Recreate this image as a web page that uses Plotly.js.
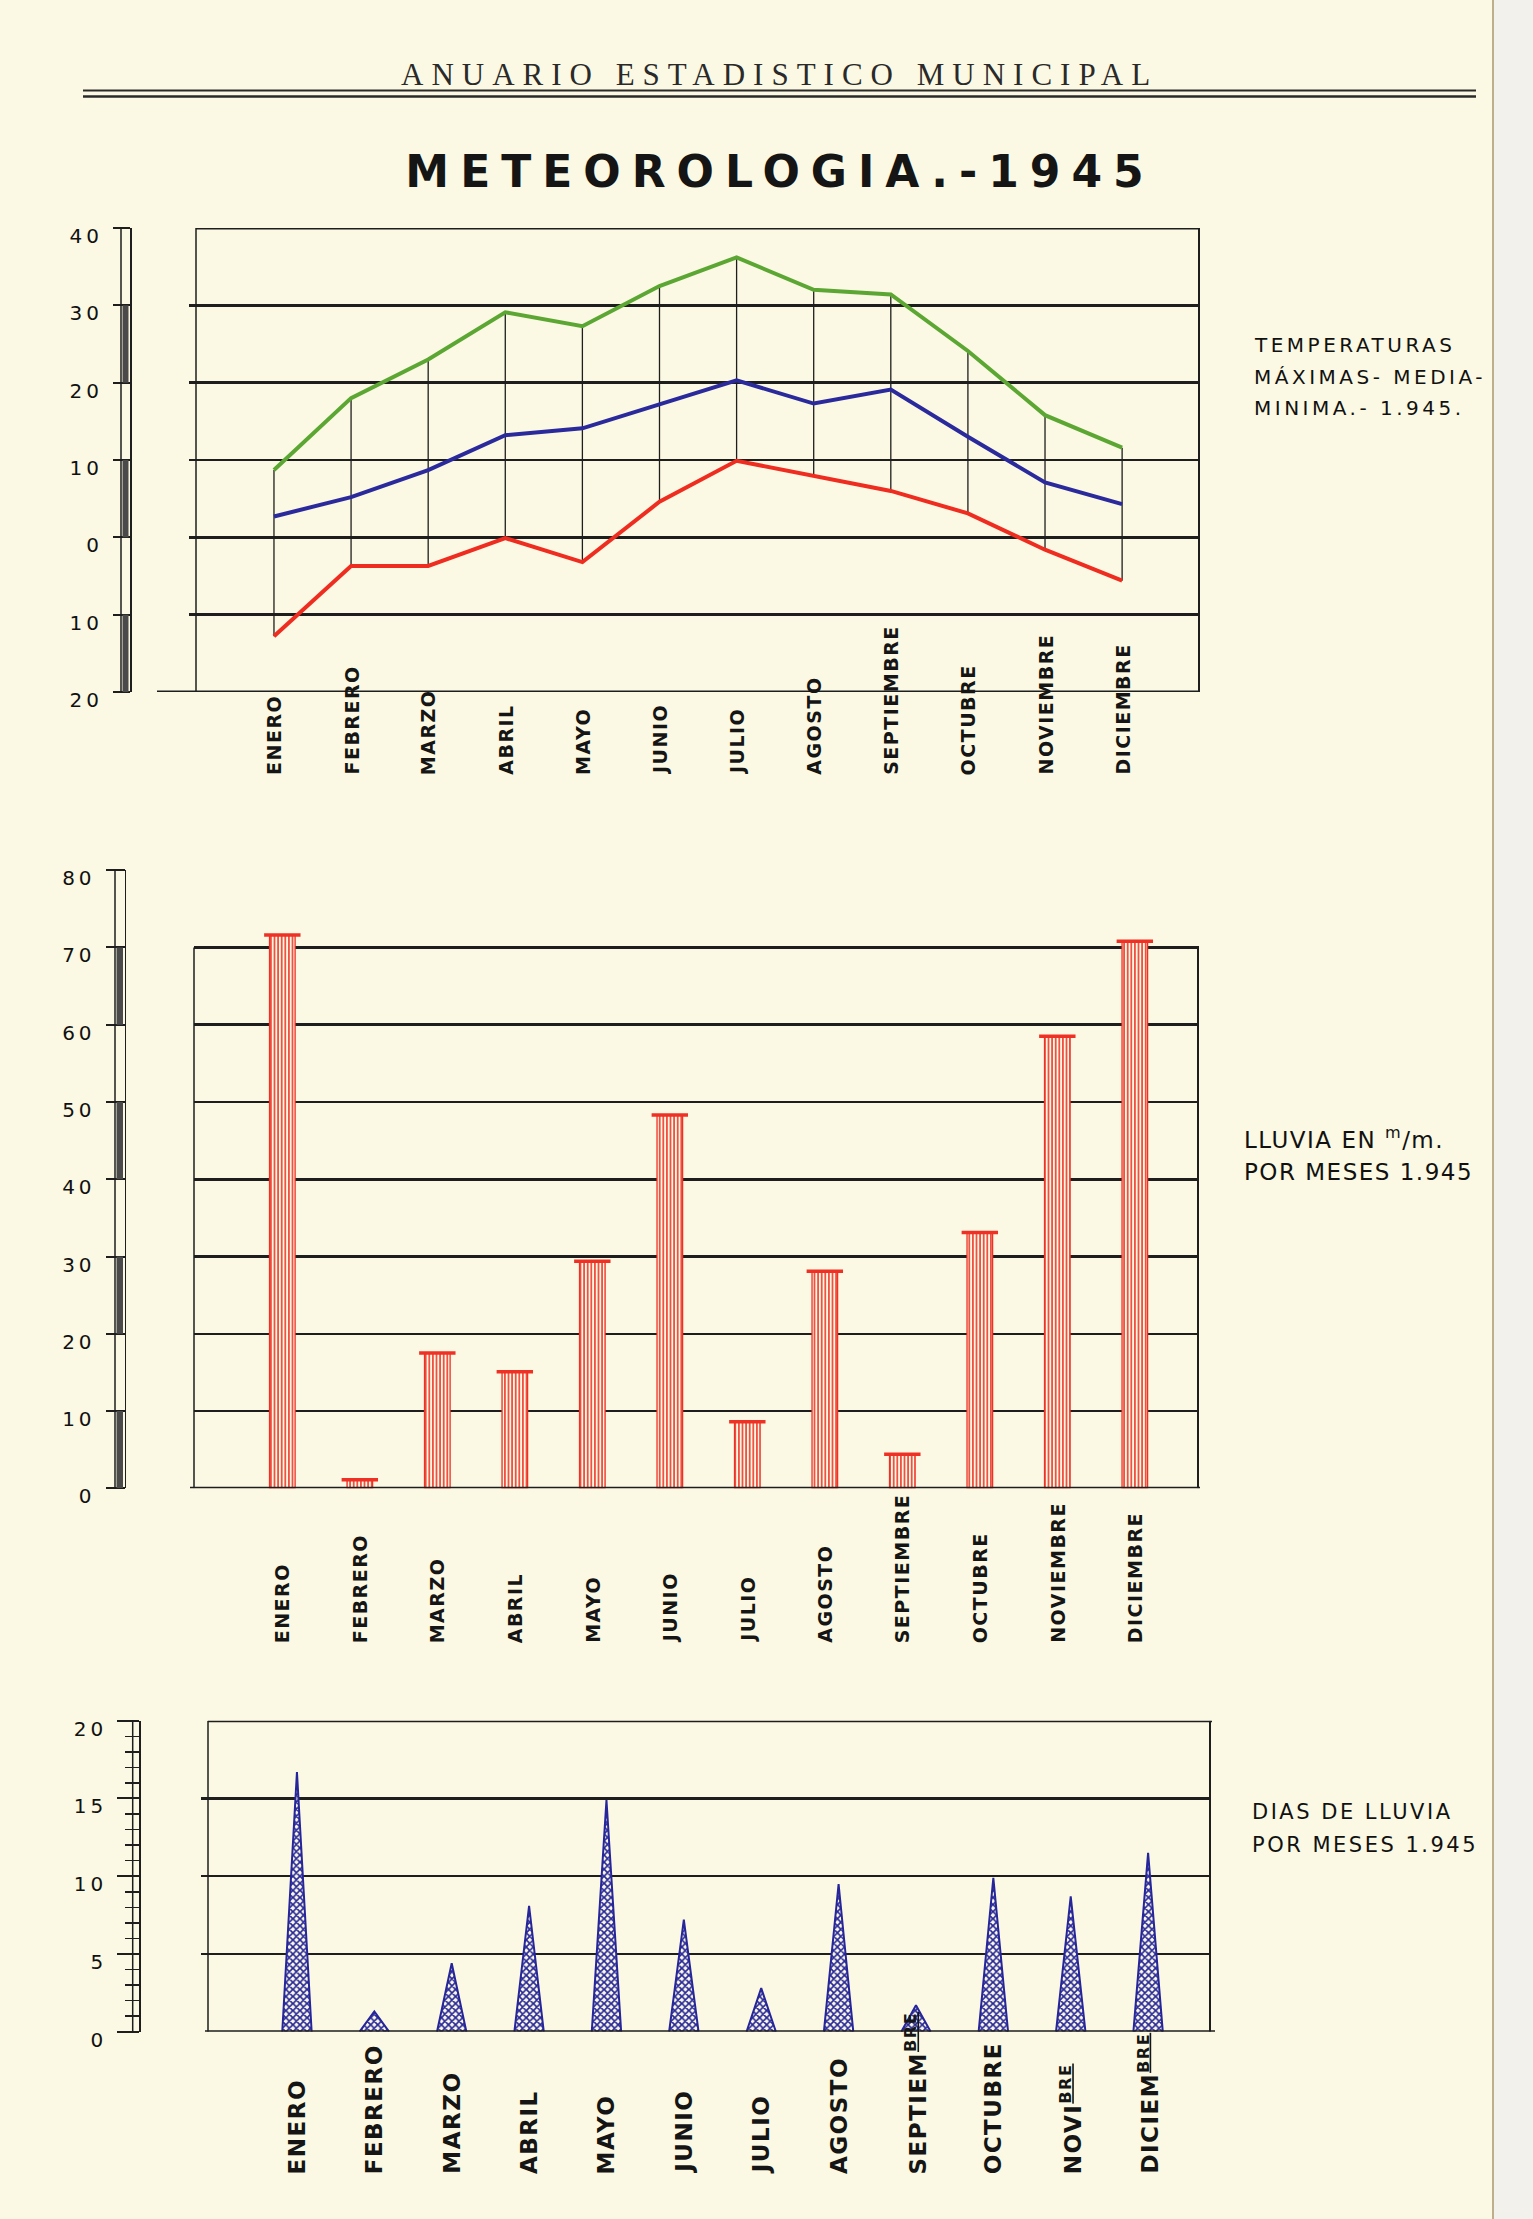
<!DOCTYPE html>
<html><head><meta charset="utf-8">
<script src="https://cdn.plot.ly/plotly-3.0.1.min.js"></script>
<style>html,body{margin:0;padding:0;background:#fbf9e3;} #chart{width:1533px;height:2219px;}</style>
</head><body><div id="chart"></div>
<script>
// ---------------- DATA ----------------
const months = ['ENERO','FEBRERO','MARZO','ABRIL','MAYO','JUNIO','JULIO','AGOSTO','SEPTIEMBRE','OCTUBRE','NOVIEMBRE','DICIEMBRE'];
const monthsDias = ['ENERO','FEBRERO','MARZO','ABRIL','MAYO','JUNIO','JULIO','AGOSTO','SEPTIEM<sup><u>BRE</u></sup>','OCTUBRE','NOVI<sup><u>BRE</u></sup>','DICIEM<sup><u>BRE</u></sup>'];
const tempMax = [8.7, 18.0, 23.0, 29.1, 27.3, 32.5, 36.2, 32.0, 31.4, 24.1, 15.8, 11.6];
const tempMedia = [2.7, 5.2, 8.7, 13.2, 14.1, 17.2, 20.3, 17.3, 19.1, 13.0, 7.1, 4.3];
const tempMin = [-12.8, -3.7, -3.7, -0.1, -3.2, 4.6, 9.9, 7.9, 6.0, 3.1, -1.6, -5.6];
const lluvia = [71.6, 1.1, 17.5, 15.1, 29.4, 48.3, 8.6, 28.1, 4.4, 33.1, 58.5, 70.8];
const diasLluvia = [16.7, 1.3, 4.4, 8.1, 14.9, 7.2, 2.8, 9.5, 1.7, 9.9, 8.7, 11.5];
const tempTickVals = [-20, -10, 0, 10, 20, 30, 40];
const tempTickText = ['20', '10', '0', '10', '20', '30', '40'];
const lluviaTickVals = [0, 10, 20, 30, 40, 50, 60, 70, 80];
const lluviaTickText = ['0', '10', '20', '30', '40', '50', '60', '70', '80'];
const diasTickVals = [0, 5, 10, 15, 20];
const diasTickText = ['0', '5', '10', '15', '20'];
const headerText = 'ANUARIO ESTADISTICO MUNICIPAL';
const titleText = 'METEOROLOGIA.-1945';
const note1 = ['TEMPERATURAS', 'MÁXIMAS- MEDIA-', 'MINIMA.- 1.945.'];
const note2 = ['LLUVIA EN <sup>m</sup>/m.', 'POR MESES 1.945'];
const note3 = ['DIAS DE LLUVIA', 'POR MESES 1.945'];

// ---------------- STYLE ----------------
const W = 1533, H = 2219;
const px = v => v / W;
const py = v => 1 - v / H;
const BG = '#fbf9e3', INK = '#1e1e1e';
const GREEN = '#5ca733', BLUE = '#2b2a9c', RED = '#ef2c20', BARRED = '#ef3024', SPIKE = '#26269a';
const FONT = 'DejaVu Sans';
const sp = (t, s) => '<span style="letter-spacing:' + s + 'px">' + t + '</span>';
const idx = months.map((m, i) => i);

// ---------------- TRACES ----------------
const traces = [];
const vx = [], vy = [];
idx.forEach(i => { vx.push(i, i, null); vy.push(tempMax[i], tempMin[i], null); });
traces.push({x: vx, y: vy, mode: 'lines', line: {color: INK, width: 1.3}, xaxis: 'x', yaxis: 'y', hoverinfo: 'skip'});
traces.push({x: idx, y: tempMax, mode: 'lines', line: {color: GREEN, width: 4}, xaxis: 'x', yaxis: 'y', name: 'Máxima'});
traces.push({x: idx, y: tempMedia, mode: 'lines', line: {color: BLUE, width: 4}, xaxis: 'x', yaxis: 'y', name: 'Media'});
traces.push({x: idx, y: tempMin, mode: 'lines', line: {color: RED, width: 4}, xaxis: 'x', yaxis: 'y', name: 'Mínima'});
traces.push({type: 'bar', x: idx, y: lluvia, width: 0.33, xaxis: 'x2', yaxis: 'y2',
  marker: {color: BG, line: {color: BARRED, width: 1.3},
    pattern: {shape: '|', fgcolor: BARRED, bgcolor: BG, size: 3.6, solidity: 0.42, fillmode: 'replace'}}});
traces.push({x: idx, y: lluvia, mode: 'markers', xaxis: 'x2', yaxis: 'y2',
  marker: {symbol: 'line-ew', size: 26, color: BARRED, line: {color: BARRED, width: 3.5}}});
const hw = 0.19;
const sx = [], sy = [];
idx.forEach(i => { sx.push(i - hw, i, i + hw, null); sy.push(0, diasLluvia[i], 0, null); });
traces.push({x: sx, y: sy, mode: 'lines', fill: 'toself', xaxis: 'x3', yaxis: 'y3',
  fillcolor: BG, fillpattern: {shape: 'x', fgcolor: SPIKE, bgcolor: BG, size: 5, solidity: 0.55},
  line: {color: SPIKE, width: 2}});

// ---------------- AXES ----------------
function yAxis(domain, range, pos, vals, text, len, extra) {
  return Object.assign({
    domain: domain, range: range, anchor: 'free', position: pos,
    tickmode: 'array', tickvals: vals, ticktext: text.map(t => sp(t, 4)),
    ticks: 'outside', ticklen: len, tickwidth: 2, tickcolor: INK,
    showline: true, linecolor: INK, linewidth: 1.5,
    showgrid: true, gridcolor: INK, gridwidth: 2.5, zeroline: false,
    tickfont: {family: FONT, size: 20, color: '#111'},
    ticklabelshift: 8, ticklabelstandoff: 6, fixedrange: true
  }, extra || {});
}
const xHidden = (domain, range, anchor) => ({domain: domain, range: range, anchor: anchor, visible: false, showgrid: false, zeroline: false, fixedrange: true});

// ---------------- SHAPES ----------------
const shapes = [];
const ln = (x0, x1, y0, y1, yref, w, c) => shapes.push({type: 'line', xref: 'paper', yref: yref, x0: x0, x1: x1, y0: y0, y1: y1, line: {color: c || INK, width: w}});
const rc = (x0, x1, y0, y1, yref, c) => shapes.push({type: 'rect', xref: 'paper', yref: yref, x0: x0, x1: x1, y0: y0, y1: y1, fillcolor: c, line: {width: 0}});
ln(px(83), px(1476), py(90.5), py(90.5), 'paper', 2, '#2a2a2a');
ln(px(83), px(1476), py(96.5), py(96.5), 'paper', 2.5, '#2a2a2a');
// chart 1
ln(px(121), px(121), -20, 40, 'y', 1.5);
[[20, 30], [0, 10], [-20, -10]].forEach(s => rc(px(122.5), px(128.5), s[0], s[1], 'y', '#4a4a4a'));
ln(px(196), px(196), -20, 40, 'y', 1.5);
ln(px(1199), px(1199), -20, 40, 'y', 2);
ln(px(196), px(1200), 40, 40, 'y', 3);
ln(px(157), px(1200), -20, -20, 'y', 3);
// chart 2
ln(px(115), px(115), 0, 80, 'y2', 1.5);
[[60, 70], [40, 50], [20, 30], [0, 10]].forEach(s => rc(px(116.5), px(123), s[0], s[1], 'y2', '#4a4a4a'));
ln(px(194), px(194), 0, 70, 'y2', 1.5);
ln(px(1198), px(1198), 0, 70, 'y2', 2);
ln(px(190), px(1200), 0, 0, 'y2', 3);
// chart 3
ln(px(132.7), px(132.7), 0, 20, 'y3', 1.5);
ln(px(208), px(208), 0, 20, 'y3', 1.5);
ln(px(1210), px(1210), 0, 20, 'y3', 2);
ln(px(208), px(1212), 20, 20, 'y3', 3);
ln(px(205), px(1215), 0, 0, 'y3', 3);
// page edge
rc(px(1493), 1, 0, 1, 'paper', '#f2f1ec');
ln(px(1493), px(1493), 0, 1, 'paper', 2, '#bfae8c');

// ---------------- ANNOTATIONS ----------------
const ann = [];
ann.push({text: sp(headerText, 8), xref: 'paper', yref: 'paper', x: px(779), y: py(74), xanchor: 'center', yanchor: 'middle', showarrow: false,
  font: {family: 'Liberation Serif', size: 31, color: '#2a2a2a'}});
const noteFont = (s) => ({family: FONT, size: s, color: '#111'});
const lblFont = (s) => ({family: FONT, size: s, color: '#151515', weight: 'bold'});
note1.forEach((t, k) => ann.push({text: sp(t, 3.5), xref: 'paper', yref: 'paper', x: px(1252), y: py([345, 377, 408][k]), xanchor: 'left', yanchor: 'middle', showarrow: false, font: noteFont(20)}));
note2.forEach((t, k) => ann.push({text: sp(t, 1.5), xref: 'paper', yref: 'paper', x: px(1242), y: py([1138, 1172][k]), xanchor: 'left', yanchor: 'middle', showarrow: false, font: noteFont(23)}));
note3.forEach((t, k) => ann.push({text: sp(t, 2.5), xref: 'paper', yref: 'paper', x: px(1250), y: py([1812, 1845][k]), xanchor: 'left', yanchor: 'middle', showarrow: false, font: noteFont(21)}));
months.forEach((m, i) => ann.push({text: sp(m, 1.5), xref: 'x', yref: 'paper', x: i, y: py(777), xanchor: 'center', yanchor: 'bottom', textangle: -90, showarrow: false, font: lblFont(19)}));
months.forEach((m, i) => ann.push({text: sp(m, 1.5), xref: 'x2', yref: 'paper', x: i, y: py(1645), xanchor: 'center', yanchor: 'bottom', textangle: -90, showarrow: false, font: lblFont(19)}));
monthsDias.forEach((m, i) => ann.push({text: sp(m, 1.5), xref: 'x3', yref: 'paper', x: i, y: py(2176), xanchor: 'center', yanchor: 'bottom', textangle: -90, showarrow: false, font: lblFont(23)}));

// ---------------- LAYOUT ----------------
const layout = {
  width: W, height: H, margin: {l: 0, r: 0, t: 0, b: 0, pad: 0},
  paper_bgcolor: BG, plot_bgcolor: 'rgba(0,0,0,0)', showlegend: false,
  title: {text: sp(titleText, 11), x: px(780), xref: 'paper', xanchor: 'center', y: py(172), yref: 'container', yanchor: 'middle',
    font: {family: FONT, size: 44, color: '#151515', weight: 'bold'}},
  xaxis: xHidden([px(189), px(1200)], [-1.102, 12.01], 'y'),
  yaxis: yAxis([py(692), py(228)], [-20, 40], px(130), tempTickVals, tempTickText, 17),
  xaxis2: xHidden([px(193.5), px(1198.6)], [-1.146, 11.823], 'y2'),
  yaxis2: yAxis([py(1488.3), py(870.2)], [0, 80], px(124.6), lluviaTickVals, lluviaTickText, 19),
  xaxis3: xHidden([px(201), px(1210)], [-1.24, 11.80], 'y3'),
  yaxis3: yAxis([py(2031.7), py(1720.7)], [0, 20], px(139.3), diasTickVals, diasTickText, 22,
    {minor: {tickmode: 'linear', tick0: 0, dtick: 1, ticks: 'outside', ticklen: 14, tickwidth: 1.5, tickcolor: INK, showgrid: false}}),
  shapes: shapes, annotations: ann
};
Plotly.newPlot('chart', traces, layout, {staticPlot: true, displayModeBar: false});
</script>
</body></html>
